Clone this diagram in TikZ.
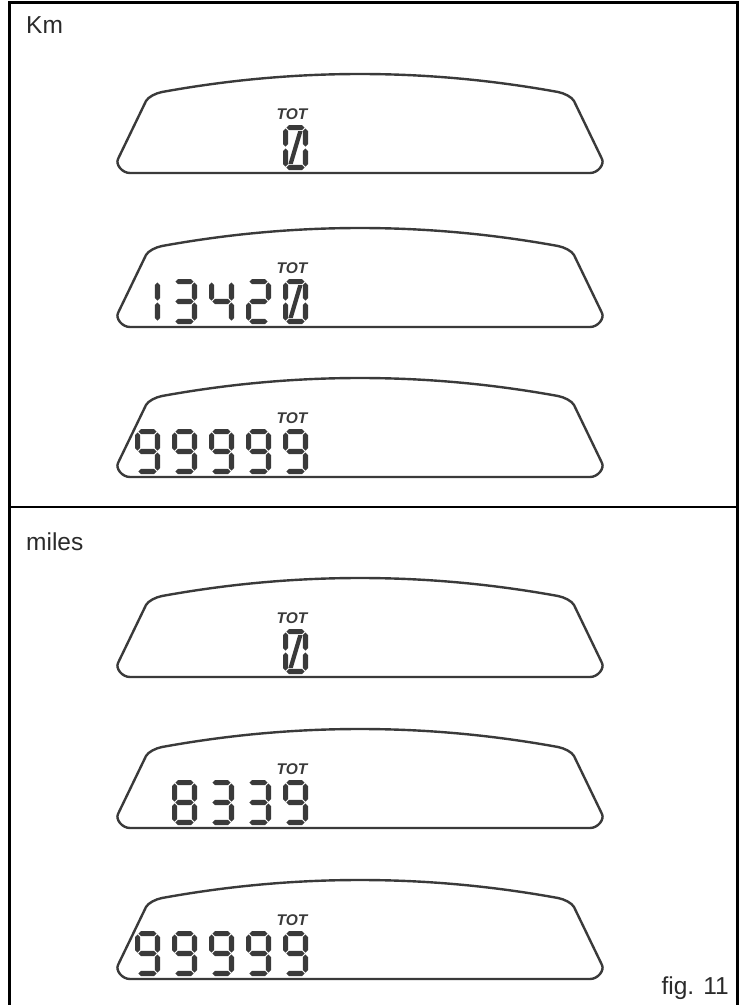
\documentclass[tikz,border=0pt]{standalone}
\usepackage{fontspec}
\setmainfont{Liberation Sans}
\usepackage{xcolor}
\definecolor{LcdGray}{HTML}{3A3A3A}
\definecolor{TextGray}{HTML}{2A2A2A}
\usepackage{tikz}

% segment shapes (local digit cell 25 x 45, y downwards)
\newcommand{\lcdh}[3]{\fill[lcdfill] (#1,#3) -- ({#1+2.6},{#3-2.6}) -- ({#2-2.6},{#3-2.6}) -- (#2,#3) -- ({#2-2.6},{#3+2.6}) -- ({#1+2.6},{#3+2.6}) -- cycle;}
\newcommand{\lcdv}[3]{\fill[lcdfill] (#1,#2) -- ({#1+2.6},{#2+2.6}) -- ({#1+2.6},{#3-2.6}) -- (#1,#3) -- ({#1-2.6},{#3-2.6}) -- ({#1-2.6},{#2+2.6}) -- cycle;}
\newcommand{\lcdsega}{\lcdh{3.4}{21.6}{2.6}}
\newcommand{\lcdsegb}{\lcdv{22.4}{3.4}{21.6}}
\newcommand{\lcdsegc}{\lcdv{22.4}{23.4}{41.6}}
\newcommand{\lcdsegd}{\lcdh{3.4}{21.6}{42.4}}
\newcommand{\lcdsege}{\lcdv{2.6}{23.4}{41.6}}
\newcommand{\lcdsegf}{\lcdv{2.6}{3.4}{21.6}}
\newcommand{\lcdsegg}{\lcdh{3.4}{21.6}{22.5}}
\newcommand{\lcdsegs}{\fill[lcdfill] (5.4,39.0) -- (9.8,39.0) -- (19.6,6.0) -- (15.2,6.0) -- cycle;}

% one digit: x, y of the cell, list of segments
\newcommand{\lcddigit}[3]{%
  \begin{scope}[shift={(#1,#2)}]
    \foreach \s in {#3} {\csname lcdseg\s\endcsname}
  \end{scope}}

% display outline with its TOT label: bottom y, label name
\newcommand{\lcdpanel}[2]{%
  \begin{scope}[shift={(360,#1)}]
    \draw[lcdline] (0,0) -- (-230,0) .. controls (-238,0) and (-244.6,-8.6) .. (-242,-14)
      -- (-214,-72) .. controls (-212,-76) and (-204,-79.9) .. (-198,-81)
      .. controls (-132,-93) and (-66,-99) .. (0,-99)
      .. controls (66,-99) and (132,-93) .. (198,-81)
      .. controls (204,-79.9) and (212,-76) .. (214,-72)
      -- (242,-14) .. controls (244.6,-8.6) and (238,0) .. (230,0) -- cycle;
    \node[totlabel] (#2) at (-68,-59) {TOT};
  \end{scope}}

\begin{document}
\begin{tikzpicture}[x=1pt, y=-1pt,
    lcdline/.style={draw=LcdGray, line width=2.4pt, line join=round},
    lcdfill/.style={fill=LcdGray},
    totlabel/.style={inner sep=0pt, text=LcdGray, font=\fontsize{15.5}{15.5}\selectfont\bfseries\itshape},
    sidelabel/.style={inner sep=0pt, text=TextGray, font=\fontsize{24.5}{24.5}\selectfont}]
  \useasboundingbox (0,0) rectangle (743,1005);

  % Frame
  \draw[black, line width=2.6pt] (9.3,1010) -- (9.3,2.5) -- (737.3,2.5) -- (737.3,1010);
  \draw[black, line width=1.4pt] (9.3,507) -- (737.3,507);

  % Labels
  \node[sidelabel, anchor=base west] (kmlabel) at (26,33) {Km};
  \node[sidelabel, anchor=base west] (mileslabel) at (26,550) {miles};
  \node[sidelabel, anchor=base east] (figlabel) at (729,994) {fig. 11};

  % Km displays
  \lcdpanel{173}{totkma}
  \lcddigit{283}{125}{a,b,c,d,e,f,s}

  \lcdpanel{327}{totkmb}
  \lcddigit{135}{279}{b,c}
  \lcddigit{172}{279}{a,b,g,c,d}
  \lcddigit{209}{279}{f,g,b,c}
  \lcddigit{246}{279}{a,b,g,e,d}
  \lcddigit{283}{279}{a,b,c,d,e,f,s}

  \lcdpanel{477}{totkmc}
  \foreach \i in {0,...,4}
    \lcddigit{135+37*\i}{429}{a,b,c,d,f,g};

  % miles displays
  \lcdpanel{677}{totmia}
  \lcddigit{283}{629}{a,b,c,d,e,f,s}

  \lcdpanel{828}{totmib}
  \lcddigit{172}{780}{a,b,c,d,e,f,g}
  \lcddigit{209}{780}{a,b,g,c,d}
  \lcddigit{246}{780}{a,b,g,c,d}
  \lcddigit{283}{780}{a,b,c,d,f,g}

  \lcdpanel{979}{totmic}
  \foreach \i in {0,...,4}
    \lcddigit{135+37*\i}{931}{a,b,c,d,f,g};
\end{tikzpicture}
\end{document}
